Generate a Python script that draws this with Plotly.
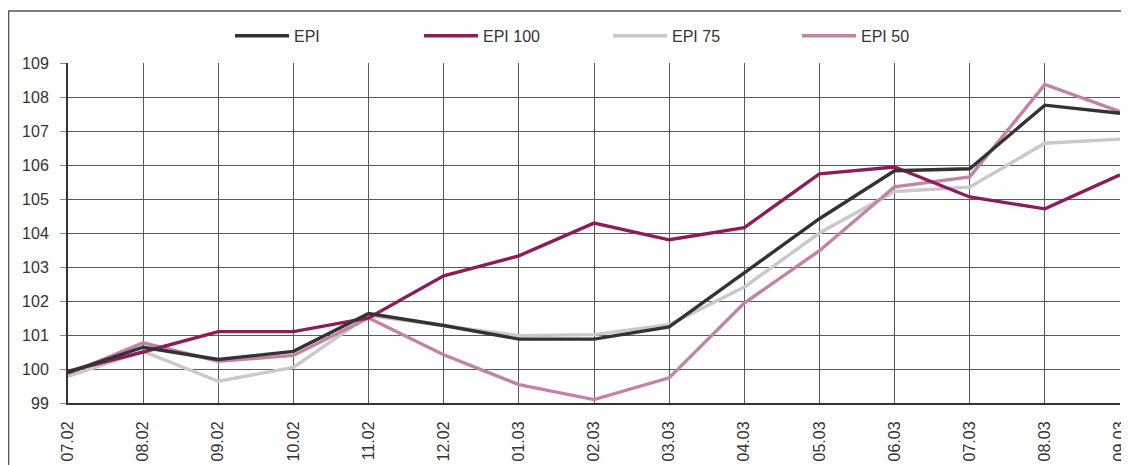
import plotly.graph_objects as go

months = ["07.02", "08.02", "09.02", "10.02", "11.02", "12.02", "01.03", "02.03",
          "03.03", "04.03", "05.03", "06.03", "07.03", "08.03", "09.03"]

epi = [99.90, 100.64, 100.28, 100.52, 101.63, 101.28, 100.88, 100.88,
       101.24, 102.84, 104.42, 105.83, 105.89, 107.76, 107.52]
epi_100 = [99.93, 100.50, 101.10, 101.10, 101.50, 102.74, 103.33, 104.29,
           103.80, 104.16, 105.74, 105.94, 105.06, 104.71, 105.71]
epi_75 = [99.78, 100.52, 99.64, 100.05, 101.57, 101.28, 100.98, 101.01,
          101.30, 102.41, 104.00, 105.22, 105.35, 106.64, 106.76]
epi_50 = [99.86, 100.77, 100.23, 100.40, 101.50, 100.42, 99.54, 99.10,
          99.74, 101.94, 103.48, 105.36, 105.65, 108.37, 107.57]

series = [
    ("EPI", epi, "#333333"),
    ("EPI 100", epi_100, "#8B1D5B"),
    ("EPI 75", epi_75, "#C9C9C9"),
    ("EPI 50", epi_50, "#C383A6"),
]

fig = go.Figure()
order = [series[2], series[3], series[1], series[0]]
legend_rank = {"EPI": 1, "EPI 100": 2, "EPI 75": 3, "EPI 50": 4}
for name, vals, col in order:
    fig.add_trace(go.Scatter(
        x=months, y=vals, name=name, mode="lines",
        line=dict(color=col, width=3.4),
        legendrank=legend_rank[name],
        hoverinfo="skip",
    ))

# The page body adds an 8px offset, so the figure is 8px smaller and margins compensate.
fig.update_layout(
    width=1121, height=457,
    template="none",
    margin=dict(l=60, r=9, t=55, b=61.5, pad=0),
    paper_bgcolor="white",
    plot_bgcolor="white",
    font=dict(family="Liberation Sans, Arial, sans-serif", size=16, color="#333333"),
    showlegend=True,
    legend=dict(
        orientation="h", x=0.154, xanchor="left", y=1.08, yanchor="middle",
        font=dict(size=16, color="#333333"),
        entrywidth=120, itemwidth=54, traceorder="normal",
        bgcolor="rgba(0,0,0,0)",
    ),
    xaxis=dict(
        type="category", range=[0, 14], automargin=False,
        showgrid=True, gridcolor="#5a5a5a", gridwidth=1,
        showline=True, linecolor="#333333", linewidth=2,
        ticks="outside", ticklen=10, tickcolor="rgba(0,0,0,0)",
        tickangle=-90, tickfont=dict(size=16, color="#333333"),
        zeroline=False,
    ),
    yaxis=dict(
        range=[99, 109], dtick=1, automargin=False,
        showgrid=True, gridcolor="#5a5a5a", gridwidth=1,
        showline=True, linecolor="#333333", linewidth=2,
        ticks="outside", ticklen=6, tickcolor="#888888",
        ticklabelstandoff=8,
        tickfont=dict(size=16, color="#333333"),
        zeroline=False,
    ),
    shapes=[dict(
        type="rect", xref="paper", yref="paper",
        x0=-0.0565, x1=1.03, y0=-0.4, y1=1.1527,
        line=dict(color="#555555", width=1.5), layer="below",
    )],
)

fig.write_html("out.html")
